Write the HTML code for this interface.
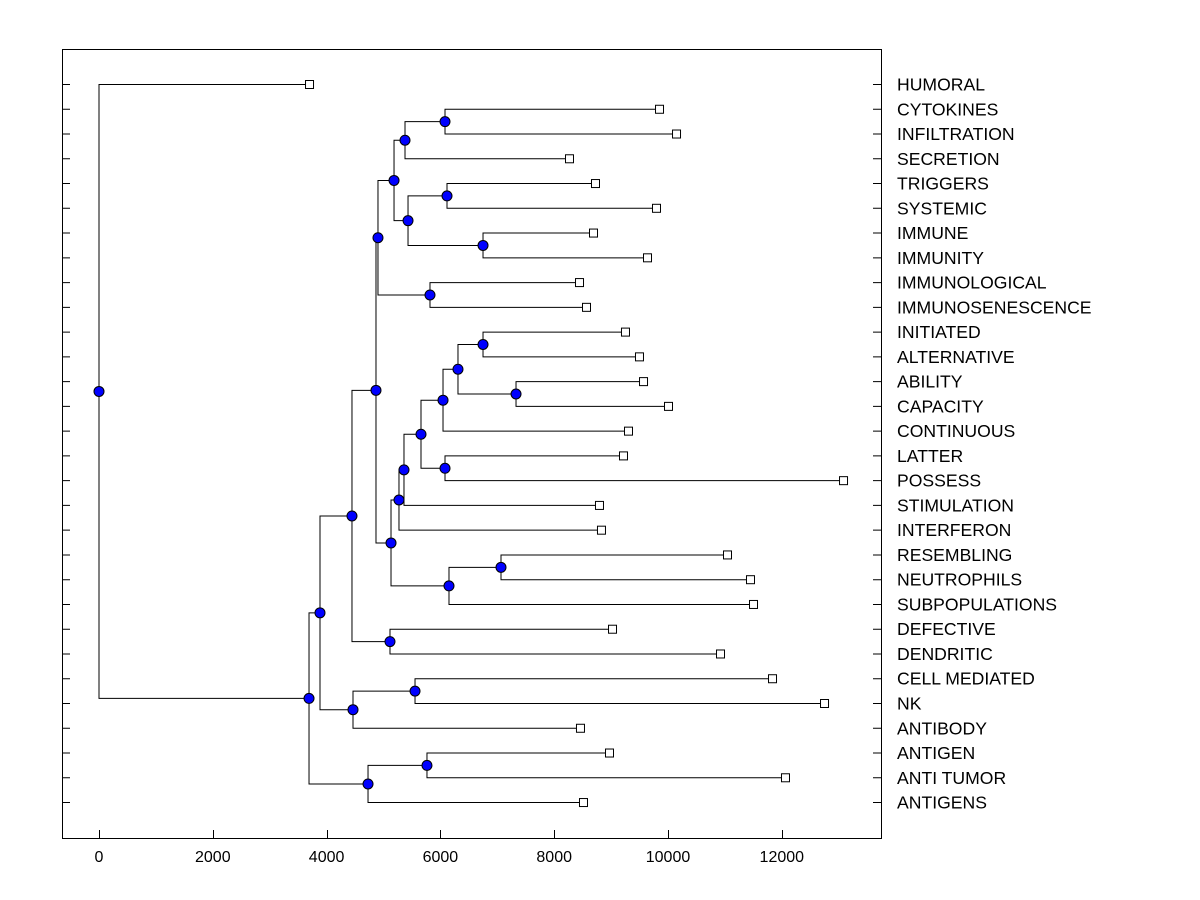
<!DOCTYPE html>
<html><head><meta charset="utf-8"><style>body{margin:0;background:#fff}svg{display:block}text{font-family:"Liberation Sans",Arial,sans-serif}</style></head>
<body>
<svg id="chart" width="1200" height="900" viewBox="0 0 1200 900" xmlns="http://www.w3.org/2000/svg">
<rect x="0" y="0" width="1200" height="900" fill="#fff"/>
<rect x="62.5" y="49.5" width="819" height="789" fill="none" stroke="#000" stroke-width="1"/>
<g id="links"></g><g id="ticks"></g><g id="labels"></g><g id="marks"></g>
</svg>
<script>
const leafNames=["HUMORAL","CYTOKINES","INFILTRATION","SECRETION","TRIGGERS","SYSTEMIC","IMMUNE","IMMUNITY","IMMUNOLOGICAL","IMMUNOSENESCENCE","INITIATED","ALTERNATIVE","ABILITY","CAPACITY","CONTINUOUS","LATTER","POSSESS","STIMULATION","INTERFERON","RESEMBLING","NEUTROPHILS","SUBPOPULATIONS","DEFECTIVE","DENDRITIC","CELL MEDIATED","NK","ANTIBODY","ANTIGEN","ANTI TUMOR","ANTIGENS"];
const leafHeights=[3691,9842,10141,8260,8717,9789,8682,9631,8436,8559,9244,9490,9561,10000,9297,9209,13076,8787,8822,11037,11441,11494,9016,10914,11828,12742,8453,8963,12056,8506];
const mergePairs=[[1,2],[30,3],[4,5],[6,7],[32,33],[31,34],[8,9],[35,36],[10,11],[12,13],[38,39],[40,14],[15,16],[41,42],[43,17],[44,18],[19,20],[46,21],[45,47],[37,48],[22,23],[49,50],[24,25],[52,26],[51,53],[27,28],[55,29],[54,56],[0,57]];
const mergeHeights=[6081,5378,6116,6749,5431,5185,5817,4903,6749,7329,6309,6046,6081,5659,5360,5272,7065,6151,5132,4868,5114,4446,5554,4464,3884,5764,4728,3691,0];
const xTicks=[0,2000,4000,6000,8000,10000,12000];

const NS="http://www.w3.org/2000/svg";
const X=v=>99+v*0.0569;
const Yrow=i=>84+i*24.76;
function mk(tag,attrs,parent){const e=document.createElementNS(NS,tag);for(const k in attrs)e.setAttribute(k,attrs[k]);document.getElementById(parent).appendChild(e);return e;}

const n=leafNames.length;
const px=[],py=[];
for(let i=0;i<n;i++){px.push(X(leafHeights[i]));py.push(Yrow(i));}
mergePairs.forEach((p,k)=>{
  const x=X(mergeHeights[k]);const y=(py[p[0]]+py[p[1]])/2;
  px.push(x);py.push(y);
  const a=p[0],b=p[1];
  const path=mk('path',{d:`M${px[a]} ${py[a]+0.5}H${x}V${py[b]+0.5}H${px[b]}`,fill:'none',stroke:'#000','stroke-width':1},'links');
  
  
});
mergePairs.forEach((p,k)=>{
  const c=mk('circle',{cx:px[n+k],cy:py[n+k]+0.5,r:5,fill:'#0000ff',stroke:'#000','stroke-width':1},'marks');
  
  
});
for(let i=0;i<n;i++){
  const r=mk('rect',{x:px[i]-3.5,y:py[i]-3.5,width:8,height:8,fill:'#fff',stroke:'#000','stroke-width':1},'marks');
  
  
  const t=mk('text',{x:897,y:py[i]+6.5,'font-size':17.6,fill:'#000'},'labels');
  t.textContent=leafNames[i];
  
  
  const tl=mk('path',{d:`M62 ${py[i]+0.5}H70M873 ${py[i]+0.5}H881`,stroke:'#000','stroke-width':1},'ticks');
  
  
}
xTicks.forEach(v=>{
  const x=Math.round(X(v))+0.5;
  const t=mk('path',{d:`M${x} 838V830`,stroke:'#000','stroke-width':1},'ticks');
  
  
  const l=mk('text',{x:X(v),y:862,'font-size':16,'text-anchor':'middle',fill:'#000'},'labels');
  l.textContent=String(v);
  
  
});
</script>
</body></html>
